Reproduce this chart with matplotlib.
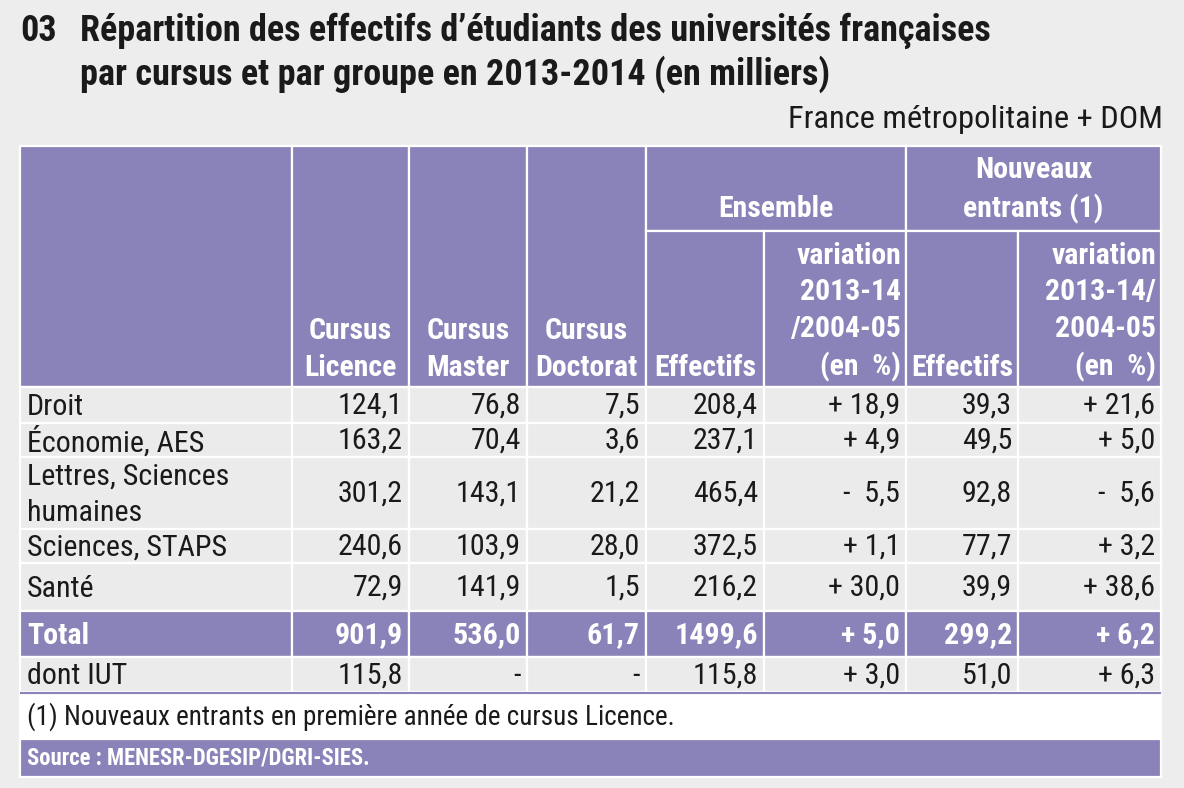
import matplotlib.pyplot as plt
from matplotlib.patches import Rectangle
from matplotlib import font_manager

# Données (en milliers)
groupes = ["Droit", "Économie, AES", "Lettres, Sciences\nhumaines", "Sciences, STAPS", "Santé"]
licence = [124.1, 163.2, 301.2, 240.6, 72.9]
master = [76.8, 70.4, 143.1, 103.9, 141.9]
doctorat = [7.5, 3.6, 21.2, 28.0, 1.5]
effectifs = [208.4, 237.1, 465.4, 372.5, 216.2]
var_ensemble = [18.9, 4.9, -5.5, 1.1, 30.0]
nouveaux = [39.3, 49.5, 92.8, 77.7, 39.9]
var_nouveaux = [21.6, 5.0, -5.6, 3.2, 38.6]
total = [901.9, 536.0, 61.7, 1499.6, 5.0, 299.2, 6.2]
dont_iut = [115.8, None, None, 115.8, 3.0, 51.0, 6.3]

en_tetes = ["Cursus\nLicence", "Cursus\nMaster", "Cursus\nDoctorat", "Effectifs",
            "variation\n2013-14\n/2004-05\n(en  %)", "Effectifs",
            "variation\n2013-14/\n2004-05\n(en  %)"]

# Mise en page (pixels)
W, H = 1184, 788
COL_X = [20, 292, 409, 527, 646, 764, 906, 1018, 1161]
ROW_Y = [387, 423, 457, 529, 563, 611, 657, 692]
HEAD_TOP, HEAD_SPLIT = 146, 231
VAR_COLS = (4, 6)

VIOLET = "#8983b9"
GRIS = "#ebebeb"
FOND = "#ededed"
BLANC = "white"
NOIR = "#1a1a1a"

# police étroite si disponible, sinon Liberation Sans
noms = {f.name for f in font_manager.fontManager.ttflist}
etroite = None
for n in ["Roboto Condensed", "Liberation Sans Narrow", "Noto Sans Condensed",
          "Open Sans Condensed", "Noto Sans SemiCondensed"]:
    if n in noms:
        etroite = n
        break
if etroite:
    plt.rcParams["font.family"] = [etroite, "DejaVu Sans"]
    k = 1.0
else:
    plt.rcParams["font.family"] = ["Liberation Sans", "DejaVu Sans"]
    k = 0.85

SZ_TITRE = 26.0 * k
SZ_CORPS = 21.6 * k
SZ_FRANCE = 23.4 * k
SZ_TETE = 21.4 * k
SZ_NOTE = 19.5 * k
SZ_SOURCE = 16.3 * k


def fmt(v, signe=False):
    if v is None:
        return "-"
    s = f"{abs(v):.1f}".replace(".", ",")
    if signe:
        return ("+ " if v >= 0 else "-  ") + s
    return s


fig = plt.figure(figsize=(W / 100, H / 100), dpi=100, facecolor=FOND)
ax = fig.add_axes([0, 0, 1, 1])
ax.set_xlim(0, W)
ax.set_ylim(H, 0)
ax.axis("off")


def cell(x0, y0, x1, y1, color):
    ax.add_patch(Rectangle((x0, y0), x1 - x0, y1 - y0, facecolor=color,
                           edgecolor=BLANC, linewidth=1.6))


# Titre
ax.text(20, 31, "03", fontsize=SZ_TITRE, fontweight="bold", color=NOIR, va="center")
ax.text(80, 31, "Répartition des effectifs d’étudiants des universités françaises",
        fontsize=SZ_TITRE, fontweight="bold", color=NOIR, va="center")
ax.text(80, 74, "par cursus et par groupe en 2013-2014 (en milliers)",
        fontsize=SZ_TITRE, fontweight="bold", color=NOIR, va="center")
ax.text(1163, 119, "France métropolitaine + DOM", fontsize=SZ_FRANCE, color=NOIR,
        ha="right", va="center")

# Cadre blanc
ax.add_patch(Rectangle((COL_X[0], HEAD_TOP), COL_X[-1] - COL_X[0], 777 - HEAD_TOP,
                       facecolor=BLANC, edgecolor=BLANC, linewidth=1.6))

# En-tête
cell(COL_X[0], HEAD_TOP, COL_X[1], ROW_Y[0], VIOLET)
for j in range(3):
    cell(COL_X[j + 1], HEAD_TOP, COL_X[j + 2], ROW_Y[0], VIOLET)
cell(COL_X[4], HEAD_TOP, COL_X[6], HEAD_SPLIT, VIOLET)
cell(COL_X[6], HEAD_TOP, COL_X[8], HEAD_SPLIT, VIOLET)
for j in range(3, 7):
    cell(COL_X[j + 1], HEAD_SPLIT, COL_X[j + 2], ROW_Y[0], VIOLET)

ax.text((COL_X[4] + COL_X[6]) / 2, 209, "Ensemble", fontsize=SZ_TETE,
        fontweight="bold", color=BLANC, ha="center", va="center")
ax.text((COL_X[6] + COL_X[8]) / 2, 190, "Nouveaux\nentrants (1)", fontsize=SZ_TETE,
        fontweight="bold", color=BLANC, ha="center", va="center", linespacing=1.39)

for j, lab in enumerate(en_tetes):
    x0, x1 = COL_X[j + 1], COL_X[j + 2]
    if j in VAR_COLS:
        xt, ha, ma = x1 - 5, "right", "right"
    else:
        xt, ha, ma = (x0 + x1) / 2, "center", "center"
    ax.text(xt, 382, lab, fontsize=SZ_TETE, fontweight="bold", color=BLANC,
            ha=ha, va="bottom", multialignment=ma, linespacing=1.39)

# Lignes de données
lignes = []
for i in range(len(groupes)):
    lignes.append((groupes[i], [licence[i], master[i], doctorat[i], effectifs[i],
                                var_ensemble[i], nouveaux[i], var_nouveaux[i]], GRIS, NOIR, "normal"))
lignes.append(("Total", total, VIOLET, BLANC, "bold"))
lignes.append(("dont IUT", dont_iut, GRIS, NOIR, "normal"))

for i, (nom, vals, fond, coul, poids) in enumerate(lignes):
    y0, y1 = ROW_Y[i], ROW_Y[i + 1]
    yc = (y0 + y1) / 2 + 1
    cell(COL_X[0], y0, COL_X[1], y1, fond)
    ax.text(COL_X[0] + 7, yc + 1, nom, fontsize=SZ_CORPS, color=coul, fontweight=poids,
            ha="left", va="center", linespacing=1.38)
    for j, v in enumerate(vals):
        x0, x1 = COL_X[j + 1], COL_X[j + 2]
        cell(x0, y0, x1, y1, fond)
        ax.text(x1 - 6, yc, fmt(v, j in VAR_COLS), fontsize=SZ_CORPS, color=coul,
                fontweight=poids, ha="right", va="center")

# Note et source
ax.plot([COL_X[0] + 1, COL_X[-1] - 1], [ROW_Y[-1] + 1, ROW_Y[-1] + 1], color=VIOLET, linewidth=1.5)
ax.text(COL_X[0] + 7, 717, "(1) Nouveaux entrants en première année de cursus Licence.",
        fontsize=SZ_NOTE, color=NOIR, ha="left", va="center")
cell(COL_X[0], 739, COL_X[-1], 777, VIOLET)
ax.text(COL_X[0] + 7, 758, "Source : MENESR-DGESIP/DGRI-SIES.", fontsize=SZ_SOURCE,
        fontweight="bold", color=BLANC, ha="left", va="center")

plt.savefig("out.png", dpi=100, facecolor=FOND)
plt.close()
